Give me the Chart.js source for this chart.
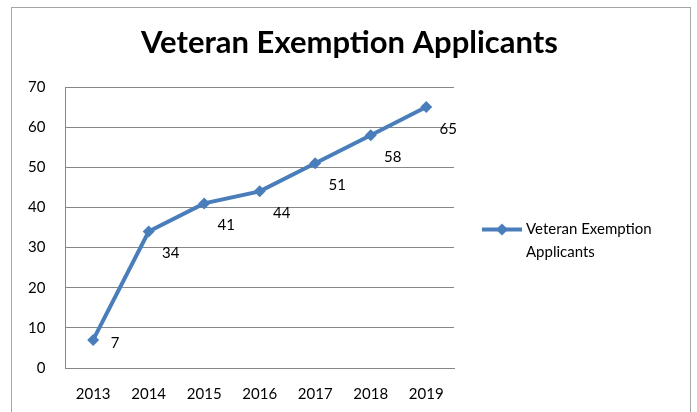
<html lang="en">
<head>
    <meta charset="UTF-8">
    <title>Veteran Exemption Applicants</title>
    <script src="https://cdn.jsdelivr.net/npm/chart.js@4"></script>
    <style>
        body { margin: 0; background: #fff; }
        #frame {
            position: absolute; left: 11px; top: 7px;
            width: 678px; height: 420px;
            border: 1px solid #a6a6a6;
        }
        #wrap { position: absolute; left: 0; top: 0; width: 697px; height: 412px; }
    </style>
</head>
<body>
    <div id="frame"></div>
    <div id="wrap"><canvas id="graph" width="697" height="412"></canvas></div>

    <script>
        const years = ['2013', '2014', '2015', '2016', '2017', '2018', '2019'];
        const applicants = [7, 34, 41, 44, 51, 58, 65];
        const seriesName = ['Veteran Exemption', 'Applicants'];
        const chartTitle = 'Veteran Exemption Applicants';

        const blue = '#4a7ebb';
        const grey = '#868686';
        const font = 'Lato, "Open Sans", sans-serif';

        // title centred on the whole frame, not just the plot
        const frameTitle = {
            id: 'frameTitle',
            afterDraw(chart) {
                const ctx = chart.ctx;
                ctx.save();
                ctx.font = 'bold 31px ' + font;
                ctx.fillStyle = '#000';
                ctx.textAlign = 'center';
                ctx.textBaseline = 'alphabetic';
                ctx.fillText(chartTitle, chart.width / 2 + 1, 53);
                ctx.restore();
            }
        };

        // value labels sit below-right of each point (first one just right)
        const valueLabels = {
            id: 'valueLabels',
            afterDatasetsDraw(chart) {
                const ctx = chart.ctx;
                const meta = chart.getDatasetMeta(0);
                ctx.save();
                ctx.font = '15px ' + font;
                ctx.fillStyle = '#000';
                ctx.textAlign = 'center';
                ctx.textBaseline = 'middle';
                meta.data.forEach((pt, i) => {
                    const dy = i === 0 ? 3 : 22;
                    ctx.fillText(String(applicants[i]), pt.x + 22, pt.y + dy);
                });
                ctx.restore();
            }
        };

        const sideLegend = {
            id: 'sideLegend',
            afterDraw(chart) {
                const ctx = chart.ctx;
                const a = chart.chartArea;
                const x0 = a.right + 28;
                const y0 = (a.top + a.bottom) / 2 + 2;
                ctx.save();
                ctx.strokeStyle = blue;
                ctx.lineWidth = 4;
                ctx.beginPath();
                ctx.moveTo(x0, y0);
                ctx.lineTo(x0 + 40, y0);
                ctx.stroke();
                ctx.fillStyle = blue;
                ctx.beginPath();
                ctx.moveTo(x0 + 20, y0 - 6);
                ctx.lineTo(x0 + 26, y0);
                ctx.lineTo(x0 + 20, y0 + 6);
                ctx.lineTo(x0 + 14, y0);
                ctx.closePath();
                ctx.fill();
                ctx.fillStyle = '#000';
                ctx.font = '15px ' + font;
                ctx.textAlign = 'left';
                ctx.textBaseline = 'middle';
                seriesName.forEach((line, i) => ctx.fillText(line, x0 + 44, y0 + i * 23));
                ctx.restore();
            }
        };

        const ctx = document.getElementById('graph').getContext('2d');
        const myChart = new Chart(ctx, {
            type: 'line',
            data: {
                labels: years,
                datasets: [{
                    label: seriesName.join(' '),
                    data: applicants,
                    borderColor: blue,
                    backgroundColor: blue,
                    borderWidth: 4,
                    pointStyle: 'rectRot',
                    pointRadius: 6,
                    pointBorderWidth: 0,
                    tension: 0
                }]
            },
            options: {
                responsive: false,
                animation: false,
                layout: { padding: { left: 8, right: 243, top: 87, bottom: -8 } },
                plugins: {
                    legend: { display: false },
                    tooltip: { enabled: false },
                    title: { display: false }
                },
                scales: {
                    x: {
                        offset: true,
                        grid: { display: false, drawTicks: false },
                        border: { display: true, color: grey, width: 1 },
                        ticks: { color: '#000', font: { family: font, size: 15 }, padding: 17, maxRotation: 0 }
                    },
                    y: {
                        min: 0,
                        max: 70,
                        grid: { color: grey, drawTicks: false },
                        border: { display: true, color: grey, width: 1 },
                        ticks: { stepSize: 10, color: '#000', font: { family: font, size: 15 }, padding: 20 }
                    }
                }
            },
            plugins: [valueLabels, sideLegend, frameTitle]
        });
    </script>
</body>
</html>
